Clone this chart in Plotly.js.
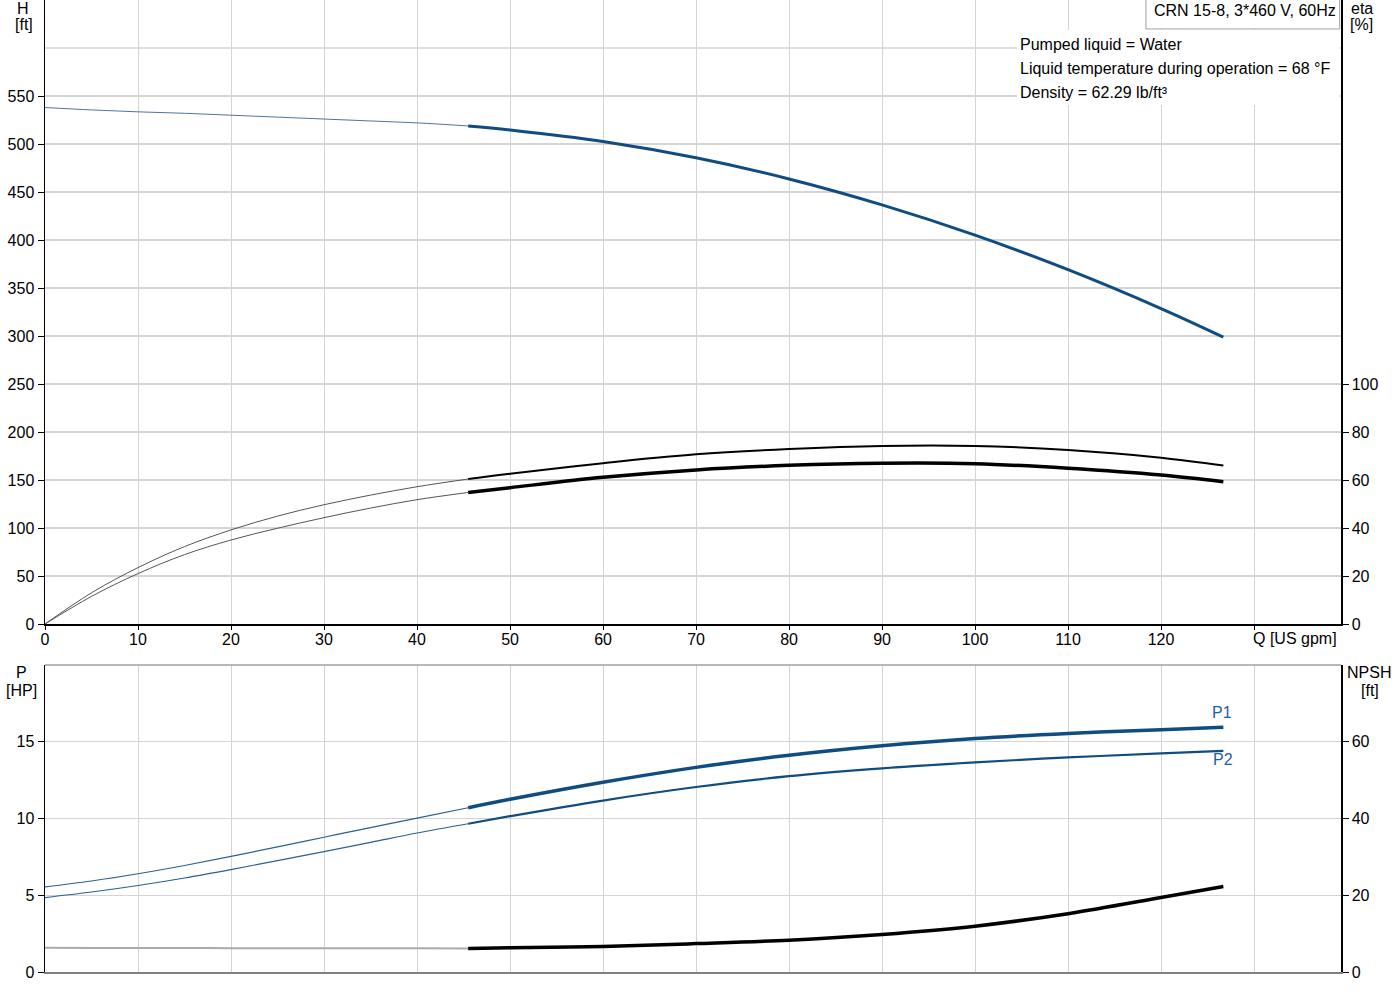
<!DOCTYPE html>
<html>
<head>
<meta charset="utf-8">
<script src="https://cdn.plot.ly/plotly-3.0.1.min.js"></script>
<style>
  html, body { margin: 0; padding: 0; background: #fff; }
  #chart { width: 1400px; height: 1000px; }
</style>
</head>
<body>
<div id="chart"></div>
<script>
// ---- data ----
const Q_LOW  = [0, 5, 10, 15, 20, 25, 30, 35, 40, 45.5];
const Q_HIGH = [45.5, 50, 60, 70, 80, 90, 100, 110, 120, 126.7];

const H_LOW  = [538, 535.5, 533.5, 532, 530, 528, 526, 524, 522, 518.8];
const H_HIGH = [518.8, 514.6, 502.6, 485.6, 463.6, 436.6, 405.1, 369.1, 328.6, 298.8];

const ETA_A_LOW  = [0, 13.0, 23.5, 32.25, 39.2, 44.95, 49.7, 53.7, 57.2, 60.4];
const ETA_A_HIGH = [60.4, 62.6, 67.0, 70.7, 72.9, 74.2, 74.2, 72.5, 69.3, 66.0];
const ETA_B_LOW  = [0, 11.5, 21.0, 28.9, 35.0, 39.9, 44.3, 48.3, 51.8, 54.8];
const ETA_B_HIGH = [54.8, 56.8, 61.1, 64.2, 66.1, 67.0, 66.8, 64.9, 62.1, 59.3];

const P1_LOW  = [5.54, 5.93, 6.4, 6.94, 7.53, 8.15, 8.78, 9.41, 10.03, 10.7];
const P1_HIGH = [10.7, 11.25, 12.36, 13.33, 14.12, 14.74, 15.21, 15.54, 15.78, 15.95];
const P2_LOW  = [4.85, 5.21, 5.635, 6.125, 6.675, 7.255, 7.845, 8.445, 9.055, 9.66];
const P2_HIGH = [9.66, 10.15, 11.17, 12.05, 12.76, 13.27, 13.66, 13.98, 14.24, 14.4];

const NPSH_LOW  = [6.3, 6.28, 6.26, 6.24, 6.22, 6.2, 6.19, 6.17, 6.16, 6.15];
const NPSH_HIGH = [6.15, 6.3, 6.66, 7.4, 8.3, 9.8, 11.95, 15.2, 19.4, 22.3];

const X_TICKS = [0, 10, 20, 30, 40, 50, 60, 70, 80, 90, 100, 110, 120, 130];
const X_TICK_TEXT = ['0','10','20','30','40','50','60','70','80','90','100','110','120',''];
const H_TICKS = [0, 50, 100, 150, 200, 250, 300, 350, 400, 450, 500, 550];
const ETA_TICKS = [0, 20, 40, 60, 80, 100];
const P_TICKS = [0, 5, 10, 15];
const NPSH_TICKS = [0, 20, 40, 60];

const TITLE_TEXT = 'CRN 15-8, 3*460 V, 60Hz';
const INFO_LINES = ['Pumped liquid = Water',
                    'Liquid temperature during operation = 68 °F',
                    'Density = 62.29 lb/ft³'];

// ---- styling ----
const BLUE = '#0f4c81';
const GRID = '#d4d4d4';
const FONT = 'Liberation Sans, Arial, sans-serif';
const XMAX = 139.35;

function line(x, y, xa, ya, color, width) {
  return { x: x, y: y, xaxis: xa, yaxis: ya, type: 'scatter', mode: 'lines',
           line: { color: color, width: width, shape: 'spline', smoothing: 1 },
           hoverinfo: 'skip' };
}

const traces = [
  line(Q_LOW, H_LOW, 'x', 'y', '#4f73a0', 1),
  line(Q_HIGH, H_HIGH, 'x', 'y', BLUE, 3),
  line(Q_LOW, ETA_A_LOW, 'x', 'y2', '#555555', 1),
  line(Q_HIGH, ETA_A_HIGH, 'x', 'y2', '#000000', 2),
  line(Q_LOW, ETA_B_LOW, 'x', 'y2', '#555555', 1),
  line(Q_HIGH, ETA_B_HIGH, 'x', 'y2', '#000000', 3.5),
  line(Q_LOW, P1_LOW, 'x2', 'y3', '#2b5f96', 1.2),
  line(Q_HIGH, P1_HIGH, 'x2', 'y3', BLUE, 3.5),
  line(Q_LOW, P2_LOW, 'x2', 'y3', '#2b5f96', 1.2),
  line(Q_HIGH, P2_HIGH, 'x2', 'y3', BLUE, 2.2),
  line(Q_LOW, NPSH_LOW, 'x2', 'y4', '#aaaaaa', 2),
  line(Q_HIGH, NPSH_HIGH, 'x2', 'y4', '#000000', 3.5)
];

const TOP_BOTTOM = 0.35802;
const BOT_TOP = 0.31584;

const tickFont = { family: FONT, size: 16, color: '#000' };

const layout = {
  width: 1400, height: 1000,
  margin: { l: 45, r: 59, t: 0, b: 28, pad: 0 },
  paper_bgcolor: '#ffffff', plot_bgcolor: '#ffffff',
  showlegend: false,
  font: { family: FONT, size: 16, color: '#000' },
  xaxis: {
    domain: [0, 1], anchor: 'y', range: [0, XMAX],
    tickvals: X_TICKS, ticktext: X_TICK_TEXT,
    ticks: 'outside', ticklen: 4, tickcolor: '#000', tickfont: tickFont,
    ticklabelstandoff: -4,
    showline: true, linecolor: '#000', linewidth: 1.5,
    showgrid: true, gridcolor: GRID, gridwidth: 1, zeroline: false
  },
  yaxis: {
    domain: [TOP_BOTTOM, 1], anchor: 'x', range: [0, 650],
    tickvals: H_TICKS, ticks: 'outside', ticklen: 6, tickcolor: '#000', tickfont: tickFont,
    showline: true, linecolor: '#000', linewidth: 1.5,
    showgrid: true, gridcolor: GRID, gridwidth: 1.3, zeroline: false
  },
  yaxis2: {
    overlaying: 'y', side: 'right', anchor: 'x', range: [0, 260],
    tickvals: ETA_TICKS, ticks: 'outside', ticklen: 6, tickcolor: '#000', tickfont: tickFont,
    showline: true, linecolor: '#000', linewidth: 1.5,
    showgrid: false, zeroline: false
  },
  xaxis2: {
    domain: [0, 1], anchor: 'y3', range: [0, XMAX],
    tickvals: X_TICKS, showticklabels: false, ticks: '',
    showline: true, linecolor: '#808080', linewidth: 1.5,
    showgrid: true, gridcolor: GRID, gridwidth: 1, zeroline: false
  },
  yaxis3: {
    domain: [0, BOT_TOP], anchor: 'x2', range: [0, 20],
    tickvals: P_TICKS, ticks: 'outside', ticklen: 6, tickcolor: '#000', tickfont: tickFont,
    showline: true, linecolor: '#000', linewidth: 1.5,
    showgrid: true, gridcolor: GRID, gridwidth: 1.3, zeroline: false
  },
  yaxis4: {
    overlaying: 'y3', side: 'right', anchor: 'x2', range: [0, 80],
    tickvals: NPSH_TICKS, ticks: 'outside', ticklen: 6, tickcolor: '#000', tickfont: tickFont,
    showline: true, linecolor: '#000', linewidth: 1.5,
    showgrid: false, zeroline: false
  },
  shapes: [
    // grid line at H = 600 (no tick label)
    { type: 'line', xref: 'x', yref: 'y', x0: 0, x1: XMAX, y0: 600, y1: 600,
      line: { color: GRID, width: 1.3 }, layer: 'below' },
    // top border of lower plot
    { type: 'line', xref: 'paper', yref: 'paper', x0: 0, x1: 1, y0: BOT_TOP, y1: BOT_TOP,
      line: { color: '#a0a0a0', width: 1.5 }, layer: 'above' },
    // white area behind liquid info text
    { type: 'rect', xref: 'paper', yref: 'paper', x0: 0.75, x1: 0.999, y0: 0.892, y1: 0.9691,
      fillcolor: '#ffffff', line: { width: 0 }, layer: 'above' },
    // box for pump title
    { type: 'rect', xref: 'paper', yref: 'paper', x0: 0.8495, x1: 0.999, y0: 0.9702, y1: 1.002,
      fillcolor: '#ffffff', line: { color: '#a0a0a0', width: 1 }, layer: 'above' }
  ],
  annotations: [
    { xref: 'paper', yref: 'paper', x: 0.8542, y: 0.9887, xanchor: 'left', yanchor: 'middle',
      text: TITLE_TEXT, showarrow: false, font: { family: FONT, size: 16, color: '#000' } },
    { xref: 'paper', yref: 'paper', x: 0.7508, y: 0.9547, xanchor: 'left', yanchor: 'middle',
      text: INFO_LINES[0], showarrow: false, font: { family: FONT, size: 16, color: '#000' } },
    { xref: 'paper', yref: 'paper', x: 0.7508, y: 0.9300, xanchor: 'left', yanchor: 'middle',
      text: INFO_LINES[1], showarrow: false, font: { family: FONT, size: 16, color: '#000' } },
    { xref: 'paper', yref: 'paper', x: 0.7508, y: 0.9053, xanchor: 'left', yanchor: 'middle',
      text: INFO_LINES[2], showarrow: false, font: { family: FONT, size: 16, color: '#000' } },
    // axis unit labels
    { xref: 'paper', yref: 'paper', x: -0.017, y: 0.9915, xanchor: 'center', yanchor: 'middle',
      text: 'H', showarrow: false, font: { family: FONT, size: 16, color: '#000' } },
    { xref: 'paper', yref: 'paper', x: -0.0162, y: 0.9743, xanchor: 'center', yanchor: 'middle',
      text: '[ft]', showarrow: false, font: { family: FONT, size: 16, color: '#000' } },
    { xref: 'paper', yref: 'paper', x: 1.0162, y: 0.9915, xanchor: 'center', yanchor: 'middle',
      text: 'eta', showarrow: false, font: { family: FONT, size: 16, color: '#000' } },
    { xref: 'paper', yref: 'paper', x: 1.0162, y: 0.9743, xanchor: 'center', yanchor: 'middle',
      text: '[%]', showarrow: false, font: { family: FONT, size: 16, color: '#000' } },
    { xref: 'paper', yref: 'paper', x: -0.0178, y: 0.3086, xanchor: 'center', yanchor: 'middle',
      text: 'P', showarrow: false, font: { family: FONT, size: 16, color: '#000' } },
    { xref: 'paper', yref: 'paper', x: -0.0178, y: 0.2901, xanchor: 'center', yanchor: 'middle',
      text: '[HP]', showarrow: false, font: { family: FONT, size: 16, color: '#000' } },
    { xref: 'paper', yref: 'paper', x: 1.0216, y: 0.3086, xanchor: 'center', yanchor: 'middle',
      text: 'NPSH', showarrow: false, font: { family: FONT, size: 16, color: '#000' } },
    { xref: 'paper', yref: 'paper', x: 1.0224, y: 0.2901, xanchor: 'center', yanchor: 'middle',
      text: '[ft]', showarrow: false, font: { family: FONT, size: 16, color: '#000' } },
    { xref: 'x', yref: 'paper', x: 129.7, y: 0.3436, xanchor: 'left', yanchor: 'middle',
      text: 'Q [US gpm]', showarrow: false, font: { family: FONT, size: 16, color: '#000' } },
    // P1 / P2 labels
    { xref: 'x2', yref: 'y3', x: 126.6, y: 16.88, xanchor: 'center', yanchor: 'middle',
      text: 'P1', showarrow: false, font: { family: FONT, size: 16, color: '#1f5f9f' } },
    { xref: 'x2', yref: 'y3', x: 126.7, y: 13.83, xanchor: 'center', yanchor: 'middle',
      text: 'P2', showarrow: false, font: { family: FONT, size: 16, color: '#1f5f9f' } }
  ]
};

Plotly.newPlot('chart', traces, layout, { staticPlot: true, displayModeBar: false });
</script>
</body>
</html>
